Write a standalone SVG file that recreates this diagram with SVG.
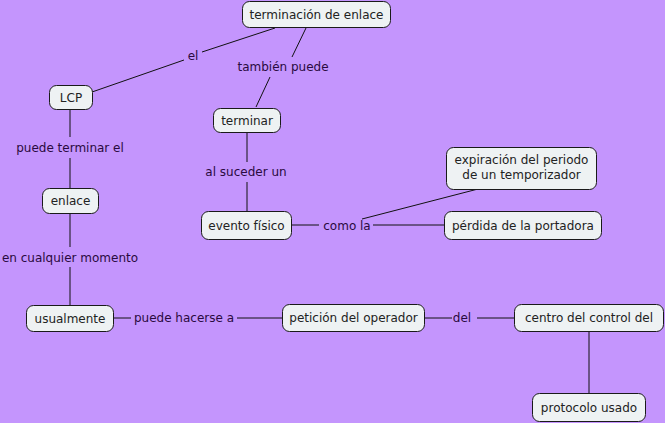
<svg xmlns="http://www.w3.org/2000/svg" width="665" height="423" viewBox="0 0 665 423">
<style>
.n rect{fill:#eef2f3;stroke:#1a1a1a;stroke-width:1}
.n text{font-family:"DejaVu Sans",Verdana,sans-serif;font-size:12px;fill:#222;text-anchor:middle}
.l{font-family:"DejaVu Sans",Verdana,sans-serif;font-size:12px;fill:#2a0a40;text-anchor:middle}
#links line{stroke:#111;stroke-width:1}
</style>
<rect width="665" height="423" fill="#c495fd"/>
<g id="links">
<line x1="275" y1="28" x2="202" y2="52"/>
<line x1="184" y1="60" x2="92" y2="92"/>
<line x1="306" y1="28" x2="292" y2="57"/>
<line x1="270" y1="77" x2="256" y2="107"/>
<line x1="70" y1="110" x2="70" y2="137"/>
<line x1="70" y1="158" x2="70" y2="188"/>
<line x1="247" y1="133" x2="247" y2="162"/>
<line x1="247" y1="182" x2="247" y2="211"/>
<line x1="70" y1="213" x2="70" y2="247"/>
<line x1="70" y1="267" x2="70" y2="305"/>
<line x1="291" y1="225" x2="319" y2="225"/>
<line x1="373" y1="225" x2="444" y2="225"/>
<line x1="362" y1="219" x2="478" y2="189"/>
<line x1="113" y1="318" x2="131" y2="318"/>
<line x1="237" y1="318" x2="282" y2="318"/>
<line x1="424" y1="318" x2="452" y2="318"/>
<line x1="477" y1="318" x2="514" y2="318"/>
<line x1="589" y1="331" x2="589" y2="393"/>
<text class="l" x="193" y="60">el</text>
<text class="l" x="283" y="71">también puede</text>
<text class="l" x="70" y="152">puede terminar el</text>
<text class="l" x="246" y="176">al suceder un</text>
<text class="l" x="70" y="262">en cualquier momento</text>
<text class="l" x="347" y="230">como la</text>
<text class="l" x="184" y="322">puede hacerse a</text>
<text class="l" x="462" y="322">del</text>
</g>
<g id="n1" class="n"><rect x="242.500" y="1.500" width="148" height="26" rx="7"/><text x="316.500" y="19">terminación de enlace</text></g>
<g id="n2" class="n"><rect x="49.500" y="85.500" width="43" height="24" rx="7"/><text x="71" y="102">LCP</text></g>
<g id="n3" class="n"><rect x="213.500" y="108.500" width="67" height="24" rx="7"/><text x="247" y="125">terminar</text></g>
<g id="n4" class="n"><rect x="42.500" y="188.500" width="56" height="25" rx="7"/><text x="70.500" y="205">enlace</text></g>
<g id="n5" class="n"><rect x="201.500" y="211.500" width="90" height="28" rx="7"/><text x="246.500" y="230">evento físico</text></g>
<g id="n6" class="n"><rect x="446.500" y="147.500" width="150" height="42" rx="7"/><text x="521.500" y="164">expiración del periodo</text><text x="521.500" y="179">de un temporizador</text></g>
<g id="n7" class="n"><rect x="444.500" y="211.500" width="157" height="28" rx="7"/><text x="523" y="230">pérdida de la portadora</text></g>
<g id="n8" class="n"><rect x="26.500" y="305.500" width="87" height="26" rx="7"/><text x="70" y="323">usualmente</text></g>
<g id="n9" class="n"><rect x="282.500" y="304.500" width="142" height="27" rx="7"/><text x="353.500" y="322">petición del operador</text></g>
<g id="n10" class="n"><rect x="514.500" y="304.500" width="149" height="27" rx="7"/><text x="589" y="322">centro del control del</text></g>
<g id="n11" class="n"><rect x="532.500" y="393.500" width="113" height="28" rx="7"/><text x="589" y="412">protocolo usado</text></g>
</svg>
